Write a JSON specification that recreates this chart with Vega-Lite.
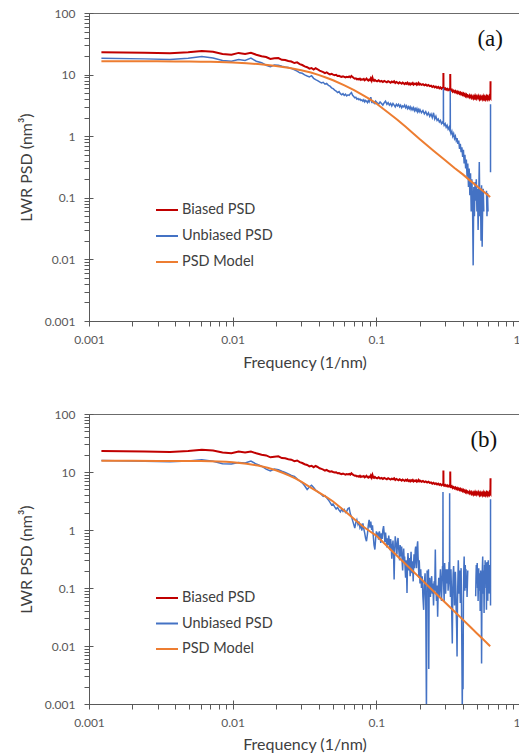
{
"$schema": "https://vega.github.io/schema/vega-lite/v6.json",
"background": "white",
"padding": {"left": 17, "top": 6, "right": 0, "bottom": 0},
"spacing": 36,
"config": {
  "font": "Lato",
  "view": {"stroke": "#6b6b6b", "strokeWidth": 1},
  "axis": {"grid": false, "domainColor": "#595959", "tickColor": "#595959", "labelColor": "#595959", "labelFont": "Lato", "labelFontSize": 12, "titleFont": "Lato", "titleFontSize": 16, "titleFontWeight": "normal", "titleColor": "#404040", "labelOverlap": false, "labelFlush": false, "labelBound": false},
  "legend": {"orient": "none", "title": null, "symbolType": "stroke", "symbolSize": 484, "symbolStrokeWidth": 2, "labelFont": "Lato", "labelFontSize": 14.5, "labelColor": "#404040", "labelOffset": 3, "padding": 0, "offset": 0}
},
"datasets": {
"red": [{"f":0.00122,"v":23.0},{"f":0.00244,"v":22.6},{"f":0.00366,"v":22.2},{"f":0.0049,"v":23.0},{"f":0.0061,"v":24.2},{"f":0.0073,"v":23.4},{"f":0.0085,"v":21.6},{"f":0.0098,"v":21.0},{"f":0.011,"v":22.5},{"f":0.0122,"v":21.6},{"f":0.0134,"v":22.6},{"f":0.0146,"v":21.0},{"f":0.0159,"v":19.8},{"f":0.0171,"v":19.3},{"f":0.0183,"v":17.9},{"f":0.0195,"v":18.4},{"f":0.0208,"v":18.6},{"f":0.022,"v":17.4},{"f":0.0232,"v":17.2},{"f":0.0244,"v":16.6},{"f":0.0256,"v":16.3},{"f":0.0269,"v":15.4},{"f":0.0281,"v":15.8},{"f":0.0293,"v":14.8},{"f":0.0305,"v":14.3},{"f":0.0317,"v":13.6},{"f":0.033,"v":13.2},{"f":0.0342,"v":12.5},{"f":0.0354,"v":12.8},{"f":0.0366,"v":12.1},{"f":0.0378,"v":12.7},{"f":0.039,"v":12.2},{"f":0.0403,"v":11.6},{"f":0.0415,"v":11.3},{"f":0.0427,"v":11.0},{"f":0.0439,"v":10.6},{"f":0.0451,"v":10.9},{"f":0.0464,"v":10.4},{"f":0.0476,"v":10.1},{"f":0.0488,"v":10.3},{"f":0.05,"v":10.0},{"f":0.0513,"v":9.8},{"f":0.0525,"v":9.9},{"f":0.0537,"v":9.5},{"f":0.055,"v":9.6},{"f":0.0562,"v":9.3},{"f":0.0574,"v":9.2},{"f":0.0586,"v":9.4},{"f":0.0598,"v":9.2},{"f":0.061,"v":9.0},{"f":0.0622,"v":9.2},{"f":0.0635,"v":9.1},{"f":0.0647,"v":9.3},{"f":0.0659,"v":9.0},{"f":0.0671,"v":9.5},{"f":0.0684,"v":9.1},{"f":0.0696,"v":8.8},{"f":0.0708,"v":8.6},{"f":0.072,"v":8.7},{"f":0.0732,"v":8.4},{"f":0.0745,"v":8.5},{"f":0.0757,"v":8.3},{"f":0.0769,"v":8.6},{"f":0.0781,"v":8.2},{"f":0.0793,"v":8.4},{"f":0.0806,"v":8.3},{"f":0.0818,"v":8.5},{"f":0.083,"v":8.1},{"f":0.0842,"v":8.3},{"f":0.0854,"v":8.6},{"f":0.0867,"v":8.2},{"f":0.0879,"v":8.0},{"f":0.0891,"v":8.3},{"f":0.0903,"v":8.1},{"f":0.0915,"v":8.7},{"f":0.0928,"v":8.0},{"f":0.094,"v":8.9},{"f":0.0952,"v":8.1},{"f":0.0964,"v":7.9},{"f":0.0977,"v":8.2},{"f":0.0989,"v":8.0},{"f":0.1013,"v":7.8},{"f":0.1037,"v":8.1},{"f":0.1062,"v":7.7},{"f":0.1086,"v":7.9},{"f":0.111,"v":7.6},{"f":0.1135,"v":7.9},{"f":0.1159,"v":7.7},{"f":0.1184,"v":7.5},{"f":0.1208,"v":7.8},{"f":0.1232,"v":7.6},{"f":0.1257,"v":7.4},{"f":0.1281,"v":7.7},{"f":0.1306,"v":7.5},{"f":0.133,"v":7.8},{"f":0.1354,"v":7.3},{"f":0.1379,"v":7.6},{"f":0.1403,"v":7.4},{"f":0.1428,"v":7.2},{"f":0.1452,"v":7.5},{"f":0.1476,"v":7.3},{"f":0.1501,"v":7.1},{"f":0.1525,"v":7.4},{"f":0.155,"v":7.2},{"f":0.1574,"v":7.0},{"f":0.1598,"v":7.3},{"f":0.1623,"v":7.1},{"f":0.1647,"v":7.4},{"f":0.1672,"v":7.0},{"f":0.1696,"v":7.2},{"f":0.172,"v":6.9},{"f":0.1745,"v":7.2},{"f":0.1769,"v":7.0},{"f":0.1794,"v":7.3},{"f":0.1818,"v":6.9},{"f":0.1842,"v":7.1},{"f":0.1867,"v":7.0},{"f":0.1891,"v":7.2},{"f":0.1916,"v":6.8},{"f":0.194,"v":7.0},{"f":0.1964,"v":7.3},{"f":0.1989,"v":6.9},{"f":0.2013,"v":7.1},{"f":0.2062,"v":6.8},{"f":0.211,"v":7.0},{"f":0.2159,"v":6.7},{"f":0.2208,"v":6.9},{"f":0.2257,"v":6.6},{"f":0.2306,"v":6.8},{"f":0.2354,"v":6.5},{"f":0.2403,"v":6.6},{"f":0.2452,"v":6.3},{"f":0.2501,"v":6.5},{"f":0.255,"v":6.2},{"f":0.2598,"v":6.4},{"f":0.2647,"v":6.1},{"f":0.2696,"v":6.3},{"f":0.2745,"v":6.0},{"f":0.2794,"v":6.2},{"f":0.2842,"v":5.9},{"f":0.2891,"v":6.1},{"f":0.2928,"v":6.0},{"f":0.293,"v":10.6},{"f":0.2935,"v":6.0},{"f":0.2965,"v":5.8},{"f":0.3013,"v":6.0},{"f":0.3062,"v":5.7},{"f":0.311,"v":5.9},{"f":0.3159,"v":5.6},{"f":0.3208,"v":5.8},{"f":0.3257,"v":5.6},{"f":0.3268,"v":5.7},{"f":0.327,"v":10.2},{"f":0.3275,"v":5.6},{"f":0.3306,"v":5.5},{"f":0.3354,"v":5.7},{"f":0.3403,"v":5.3},{"f":0.3452,"v":5.5},{"f":0.3501,"v":5.2},{"f":0.355,"v":5.4},{"f":0.3598,"v":5.1},{"f":0.3647,"v":5.3},{"f":0.3696,"v":5.0},{"f":0.3745,"v":5.2},{"f":0.3794,"v":4.9},{"f":0.3842,"v":5.1},{"f":0.3891,"v":4.8},{"f":0.394,"v":5.0},{"f":0.3989,"v":4.7},{"f":0.4037,"v":4.9},{"f":0.4086,"v":4.6},{"f":0.4135,"v":4.8},{"f":0.4184,"v":4.5},{"f":0.4232,"v":4.7},{"f":0.4281,"v":4.4},{"f":0.433,"v":4.6},{"f":0.4379,"v":4.5},{"f":0.4428,"v":4.3},{"f":0.4476,"v":4.6},{"f":0.4525,"v":4.4},{"f":0.4574,"v":4.2},{"f":0.4623,"v":4.5},{"f":0.4672,"v":4.3},{"f":0.472,"v":4.1},{"f":0.4769,"v":4.4},{"f":0.4818,"v":4.2},{"f":0.4867,"v":4.5},{"f":0.4915,"v":4.2},{"f":0.4964,"v":4.4},{"f":0.5013,"v":4.1},{"f":0.5062,"v":4.3},{"f":0.511,"v":4.5},{"f":0.5159,"v":4.2},{"f":0.5208,"v":4.0},{"f":0.5257,"v":4.3},{"f":0.5306,"v":4.1},{"f":0.5354,"v":4.4},{"f":0.5403,"v":4.2},{"f":0.5452,"v":4.0},{"f":0.5501,"v":4.3},{"f":0.555,"v":4.1},{"f":0.5598,"v":4.4},{"f":0.5647,"v":4.1},{"f":0.5696,"v":4.3},{"f":0.5745,"v":4.0},{"f":0.5794,"v":4.2},{"f":0.5842,"v":4.4},{"f":0.5891,"v":4.1},{"f":0.594,"v":4.3},{"f":0.5989,"v":4.0},{"f":0.6037,"v":4.2},{"f":0.6086,"v":4.4},{"f":0.6135,"v":4.1},{"f":0.6184,"v":4.3},{"f":0.6225,"v":4.2},{"f":0.6235,"v":7.8}],
"blueA": [{"f":0.00122,"v":18.5},{"f":0.00244,"v":18.0},{"f":0.00366,"v":17.6},{"f":0.0049,"v":18.5},{"f":0.0061,"v":19.6},{"f":0.0073,"v":18.6},{"f":0.0085,"v":16.9},{"f":0.0098,"v":16.5},{"f":0.011,"v":17.6},{"f":0.0122,"v":17.0},{"f":0.0134,"v":18.5},{"f":0.0146,"v":16.5},{"f":0.0159,"v":15.6},{"f":0.0171,"v":14.2},{"f":0.0183,"v":13.4},{"f":0.0195,"v":14.3},{"f":0.0208,"v":14.2},{"f":0.022,"v":13.7},{"f":0.0232,"v":13.3},{"f":0.0244,"v":13.0},{"f":0.0256,"v":12.6},{"f":0.0269,"v":12.0},{"f":0.0281,"v":11.4},{"f":0.0293,"v":10.7},{"f":0.0305,"v":10.5},{"f":0.0317,"v":9.9},{"f":0.033,"v":9.5},{"f":0.0342,"v":9.2},{"f":0.0354,"v":9.6},{"f":0.0366,"v":8.7},{"f":0.0378,"v":8.3},{"f":0.039,"v":8.0},{"f":0.0403,"v":7.6},{"f":0.0415,"v":7.3},{"f":0.0427,"v":7.5},{"f":0.0439,"v":7.0},{"f":0.0451,"v":7.2},{"f":0.0464,"v":6.7},{"f":0.0476,"v":6.5},{"f":0.0488,"v":6.1},{"f":0.05,"v":5.9},{"f":0.0513,"v":5.6},{"f":0.0525,"v":5.4},{"f":0.0537,"v":5.1},{"f":0.055,"v":5.3},{"f":0.0562,"v":4.9},{"f":0.0574,"v":4.7},{"f":0.0586,"v":4.9},{"f":0.0598,"v":4.6},{"f":0.061,"v":4.8},{"f":0.0622,"v":4.5},{"f":0.0635,"v":4.7},{"f":0.0647,"v":4.6},{"f":0.0659,"v":4.9},{"f":0.0671,"v":5.1},{"f":0.0684,"v":4.6},{"f":0.0696,"v":4.4},{"f":0.0708,"v":4.2},{"f":0.072,"v":4.3},{"f":0.0732,"v":4.0},{"f":0.0745,"v":4.1},{"f":0.0757,"v":3.9},{"f":0.0769,"v":4.0},{"f":0.0781,"v":3.8},{"f":0.0793,"v":3.9},{"f":0.0806,"v":3.7},{"f":0.0818,"v":3.9},{"f":0.083,"v":3.6},{"f":0.0842,"v":3.8},{"f":0.0854,"v":3.7},{"f":0.0867,"v":3.5},{"f":0.0879,"v":3.8},{"f":0.0891,"v":3.6},{"f":0.0903,"v":3.9},{"f":0.0915,"v":4.3},{"f":0.0928,"v":3.6},{"f":0.094,"v":3.7},{"f":0.0952,"v":3.5},{"f":0.0964,"v":3.6},{"f":0.0977,"v":3.4},{"f":0.0989,"v":3.7},{"f":0.1013,"v":3.5},{"f":0.1037,"v":3.3},{"f":0.1062,"v":3.6},{"f":0.1086,"v":3.4},{"f":0.111,"v":3.2},{"f":0.1135,"v":3.5},{"f":0.1159,"v":3.7},{"f":0.1184,"v":3.3},{"f":0.1208,"v":3.5},{"f":0.1232,"v":3.2},{"f":0.1257,"v":3.4},{"f":0.1281,"v":3.1},{"f":0.1306,"v":3.4},{"f":0.133,"v":3.2},{"f":0.1354,"v":3.0},{"f":0.1379,"v":3.3},{"f":0.1403,"v":3.1},{"f":0.1428,"v":3.3},{"f":0.1452,"v":3.0},{"f":0.1476,"v":3.2},{"f":0.1501,"v":2.9},{"f":0.1525,"v":3.1},{"f":0.155,"v":3.0},{"f":0.1574,"v":3.2},{"f":0.1598,"v":2.9},{"f":0.1623,"v":3.1},{"f":0.1647,"v":2.8},{"f":0.1672,"v":3.0},{"f":0.1696,"v":2.8},{"f":0.172,"v":3.0},{"f":0.1745,"v":2.7},{"f":0.1769,"v":2.9},{"f":0.1794,"v":2.7},{"f":0.1818,"v":2.9},{"f":0.1842,"v":2.6},{"f":0.1867,"v":2.8},{"f":0.1891,"v":2.6},{"f":0.1916,"v":2.8},{"f":0.194,"v":2.5},{"f":0.1964,"v":2.7},{"f":0.1989,"v":2.5},{"f":0.2013,"v":2.7},{"f":0.2062,"v":2.4},{"f":0.211,"v":2.6},{"f":0.2159,"v":2.3},{"f":0.2208,"v":2.5},{"f":0.2257,"v":2.2},{"f":0.2306,"v":2.4},{"f":0.2354,"v":2.1},{"f":0.2403,"v":2.3},{"f":0.2452,"v":2.0},{"f":0.2501,"v":2.4},{"f":0.255,"v":1.9},{"f":0.2598,"v":2.1},{"f":0.2647,"v":1.8},{"f":0.2696,"v":1.9},{"f":0.2745,"v":1.7},{"f":0.2794,"v":1.8},{"f":0.2842,"v":1.6},{"f":0.2891,"v":1.7},{"f":0.2928,"v":1.6},{"f":0.293,"v":6.0},{"f":0.2935,"v":1.65},{"f":0.2965,"v":1.5},{"f":0.3013,"v":1.6},{"f":0.3062,"v":1.4},{"f":0.311,"v":1.5},{"f":0.3159,"v":1.3},{"f":0.3208,"v":1.4},{"f":0.3257,"v":1.2},{"f":0.3268,"v":1.25},{"f":0.327,"v":5.5},{"f":0.3275,"v":1.2},{"f":0.3306,"v":1.1},{"f":0.3354,"v":1.2},{"f":0.3403,"v":1.0},{"f":0.3452,"v":1.1},{"f":0.3501,"v":0.92},{"f":0.355,"v":1.0},{"f":0.3598,"v":0.85},{"f":0.3647,"v":0.93},{"f":0.3696,"v":0.75},{"f":0.3745,"v":0.85},{"f":0.3794,"v":0.62},{"f":0.3842,"v":0.75},{"f":0.3891,"v":0.55},{"f":0.394,"v":0.66},{"f":0.3989,"v":0.46},{"f":0.4037,"v":0.6},{"f":0.4086,"v":0.36},{"f":0.4135,"v":0.5},{"f":0.4184,"v":0.3},{"f":0.4232,"v":0.42},{"f":0.4281,"v":0.22},{"f":0.433,"v":0.36},{"f":0.4379,"v":0.15},{"f":0.4428,"v":0.3},{"f":0.4476,"v":0.11},{"f":0.4525,"v":0.25},{"f":0.4574,"v":0.06},{"f":0.4623,"v":0.2},{"f":0.4672,"v":0.09},{"f":0.472,"v":0.008},{"f":0.4769,"v":0.15},{"f":0.4818,"v":0.05},{"f":0.4867,"v":0.18},{"f":0.4915,"v":0.09},{"f":0.4964,"v":0.2},{"f":0.5013,"v":0.06},{"f":0.5062,"v":0.14},{"f":0.511,"v":0.03},{"f":0.5159,"v":0.1},{"f":0.5208,"v":0.38},{"f":0.5257,"v":0.05},{"f":0.5306,"v":0.14},{"f":0.5354,"v":0.02},{"f":0.5403,"v":0.16},{"f":0.5452,"v":0.016},{"f":0.5501,"v":0.09},{"f":0.555,"v":0.14},{"f":0.5598,"v":0.06},{"f":0.57,"v":null},{"f":0.5845,"v":0.13},{"f":0.5891,"v":0.05},{"f":0.594,"v":0.12},{"f":0.5989,"v":0.06},{"f":0.61,"v":null},{"f":0.6235,"v":0.26},{"f":0.6236,"v":3.3}],
"modelA": [{"f":0.00122,"v":16.4},{"f":0.002,"v":16.4},{"f":0.003,"v":16.4},{"f":0.004,"v":16.35},{"f":0.005,"v":16.3},{"f":0.006,"v":16.2},{"f":0.007,"v":16.1},{"f":0.008,"v":16.0},{"f":0.009,"v":15.9},{"f":0.01,"v":15.7},{"f":0.0125,"v":15.3},{"f":0.015,"v":14.8},{"f":0.0175,"v":14.3},{"f":0.02,"v":13.8},{"f":0.025,"v":12.8},{"f":0.03,"v":11.8},{"f":0.035,"v":10.8},{"f":0.04,"v":9.8},{"f":0.045,"v":8.9},{"f":0.05,"v":8.1},{"f":0.06,"v":6.7},{"f":0.07,"v":5.6},{"f":0.08,"v":4.7},{"f":0.09,"v":4.0},{"f":0.1,"v":3.4},{"f":0.12,"v":2.45},{"f":0.14,"v":1.85},{"f":0.16,"v":1.42},{"f":0.18,"v":1.12},{"f":0.2,"v":0.9},{"f":0.25,"v":0.58},{"f":0.3,"v":0.41},{"f":0.35,"v":0.305},{"f":0.4,"v":0.24},{"f":0.45,"v":0.19},{"f":0.5,"v":0.155},{"f":0.56,"v":0.125},{"f":0.62,"v":0.103}],
"blueB": [{"f":0.00122,"v":15.8},{"f":0.00244,"v":15.3},{"f":0.00366,"v":15.0},{"f":0.0049,"v":15.5},{"f":0.0061,"v":16.3},{"f":0.0073,"v":15.3},{"f":0.0085,"v":13.9},{"f":0.0098,"v":13.7},{"f":0.011,"v":14.6},{"f":0.0122,"v":14.3},{"f":0.0134,"v":15.4},{"f":0.0146,"v":13.7},{"f":0.0159,"v":12.6},{"f":0.0171,"v":11.2},{"f":0.0183,"v":10.4},{"f":0.0195,"v":11.2},{"f":0.0208,"v":10.9},{"f":0.022,"v":10.3},{"f":0.0232,"v":9.8},{"f":0.0244,"v":9.3},{"f":0.0256,"v":8.7},{"f":0.0269,"v":8.4},{"f":0.0281,"v":7.6},{"f":0.0293,"v":7.0},{"f":0.0305,"v":6.5},{"f":0.0317,"v":5.8},{"f":0.033,"v":5.0},{"f":0.0342,"v":5.5},{"f":0.0354,"v":5.9},{"f":0.0366,"v":5.4},{"f":0.0378,"v":4.9},{"f":0.039,"v":4.6},{"f":0.0403,"v":4.3},{"f":0.0415,"v":4.1},{"f":0.0427,"v":3.8},{"f":0.0439,"v":3.9},{"f":0.0451,"v":3.6},{"f":0.0464,"v":3.3},{"f":0.0476,"v":3.0},{"f":0.0488,"v":2.7},{"f":0.05,"v":2.8},{"f":0.0513,"v":2.5},{"f":0.0525,"v":2.3},{"f":0.0537,"v":2.45},{"f":0.055,"v":2.2},{"f":0.0562,"v":2.05},{"f":0.0574,"v":2.3},{"f":0.0586,"v":2.1},{"f":0.0598,"v":2.25},{"f":0.061,"v":2.0},{"f":0.0622,"v":2.1},{"f":0.0635,"v":2.35},{"f":0.0647,"v":2.4},{"f":0.0659,"v":1.9},{"f":0.0671,"v":1.7},{"f":0.0684,"v":1.45},{"f":0.0696,"v":1.25},{"f":0.0708,"v":1.08},{"f":0.072,"v":1.35},{"f":0.0732,"v":1.5},{"f":0.0745,"v":1.25},{"f":0.0757,"v":1.4},{"f":0.0769,"v":1.1},{"f":0.0781,"v":1.2},{"f":0.0793,"v":0.98},{"f":0.0806,"v":1.3},{"f":0.0818,"v":1.05},{"f":0.083,"v":0.88},{"f":0.0842,"v":0.72},{"f":0.0854,"v":0.64},{"f":0.0867,"v":0.85},{"f":0.0879,"v":1.2},{"f":0.0891,"v":1.5},{"f":0.0903,"v":1.1},{"f":0.0915,"v":1.4},{"f":0.0928,"v":1.0},{"f":0.094,"v":1.2},{"f":0.0952,"v":0.8},{"f":0.0964,"v":0.55},{"f":0.0977,"v":0.46},{"f":0.0989,"v":0.7},{"f":0.1001,"v":0.95},{"f":0.1013,"v":0.78},{"f":0.1025,"v":0.9},{"f":0.1037,"v":0.68},{"f":0.105,"v":0.95},{"f":0.1062,"v":0.82},{"f":0.1074,"v":0.6},{"f":0.1086,"v":0.88},{"f":0.1098,"v":0.7},{"f":0.111,"v":1.0},{"f":0.1123,"v":1.17},{"f":0.1135,"v":0.85},{"f":0.1147,"v":0.62},{"f":0.1159,"v":0.9},{"f":0.1172,"v":0.66},{"f":0.1184,"v":0.5},{"f":0.1196,"v":0.72},{"f":0.1208,"v":0.55},{"f":0.122,"v":0.8},{"f":0.1232,"v":0.62},{"f":0.1245,"v":0.45},{"f":0.1257,"v":0.7},{"f":0.1269,"v":0.55},{"f":0.1281,"v":0.32},{"f":0.1294,"v":0.5},{"f":0.1306,"v":0.66},{"f":0.1318,"v":0.4},{"f":0.133,"v":0.14},{"f":0.1342,"v":0.45},{"f":0.1354,"v":0.78},{"f":0.1367,"v":0.6},{"f":0.1379,"v":0.5},{"f":0.1391,"v":0.38},{"f":0.1403,"v":0.62},{"f":0.1416,"v":0.73},{"f":0.1428,"v":0.5},{"f":0.144,"v":0.4},{"f":0.1452,"v":0.3},{"f":0.1464,"v":0.55},{"f":0.1476,"v":0.42},{"f":0.1489,"v":0.35},{"f":0.1501,"v":0.52},{"f":0.1513,"v":0.28},{"f":0.1525,"v":0.2},{"f":0.1537,"v":0.35},{"f":0.155,"v":0.48},{"f":0.1562,"v":0.3},{"f":0.1574,"v":0.35},{"f":0.1586,"v":0.22},{"f":0.1598,"v":0.15},{"f":0.1611,"v":0.3},{"f":0.1623,"v":0.2},{"f":0.1635,"v":0.082},{"f":0.1647,"v":0.25},{"f":0.166,"v":0.4},{"f":0.1672,"v":0.3},{"f":0.1684,"v":0.2},{"f":0.1696,"v":0.33},{"f":0.1708,"v":0.24},{"f":0.172,"v":0.16},{"f":0.1733,"v":0.3},{"f":0.1745,"v":0.42},{"f":0.1757,"v":0.25},{"f":0.1769,"v":0.18},{"f":0.1781,"v":0.29},{"f":0.1794,"v":0.2},{"f":0.1806,"v":0.13},{"f":0.1818,"v":0.26},{"f":0.183,"v":0.38},{"f":0.1842,"v":0.22},{"f":0.1855,"v":0.3},{"f":0.1867,"v":0.46},{"f":0.1879,"v":0.52},{"f":0.1891,"v":0.32},{"f":0.1903,"v":0.22},{"f":0.1916,"v":0.4},{"f":0.1928,"v":0.55},{"f":0.194,"v":0.64},{"f":0.1952,"v":0.35},{"f":0.1964,"v":0.25},{"f":0.1977,"v":0.15},{"f":0.1989,"v":0.3},{"f":0.2001,"v":0.2},{"f":0.2013,"v":0.12},{"f":0.2037,"v":0.21},{"f":0.2062,"v":0.1},{"f":0.2086,"v":0.16},{"f":0.211,"v":0.07},{"f":0.2135,"v":0.042},{"f":0.2159,"v":0.12},{"f":0.2184,"v":0.18},{"f":0.2208,"v":0.06},{"f":0.2232,"v":0.0008},{"f":0.2257,"v":0.2},{"f":0.2281,"v":0.12},{"f":0.2306,"v":0.21},{"f":0.2318,"v":0.004},{"f":0.233,"v":0.09},{"f":0.2354,"v":0.15},{"f":0.2379,"v":0.07},{"f":0.2403,"v":0.11},{"f":0.2428,"v":0.16},{"f":0.2452,"v":0.08},{"f":0.2476,"v":0.12},{"f":0.2501,"v":0.05},{"f":0.2525,"v":0.13},{"f":0.255,"v":0.09},{"f":0.2574,"v":0.46},{"f":0.2586,"v":0.2},{"f":0.2598,"v":0.1},{"f":0.2623,"v":0.06},{"f":0.2647,"v":0.11},{"f":0.2672,"v":0.032},{"f":0.2696,"v":0.09},{"f":0.272,"v":0.15},{"f":0.2745,"v":0.07},{"f":0.2769,"v":0.12},{"f":0.2794,"v":0.21},{"f":0.2818,"v":0.1},{"f":0.2842,"v":0.06},{"f":0.2867,"v":0.14},{"f":0.2891,"v":0.24},{"f":0.2905,"v":0.2},{"f":0.291,"v":4.5},{"f":0.2915,"v":0.25},{"f":0.294,"v":0.12},{"f":0.2965,"v":0.06},{"f":0.2989,"v":0.27},{"f":0.3013,"v":0.15},{"f":0.3037,"v":0.08},{"f":0.3062,"v":0.21},{"f":0.3086,"v":0.12},{"f":0.311,"v":0.18},{"f":0.3135,"v":0.21},{"f":0.3159,"v":0.09},{"f":0.3184,"v":0.13},{"f":0.3208,"v":0.28},{"f":0.3232,"v":0.15},{"f":0.3238,"v":4.3},{"f":0.3245,"v":0.2},{"f":0.3257,"v":0.12},{"f":0.3281,"v":0.07},{"f":0.3306,"v":0.21},{"f":0.333,"v":0.1},{"f":0.3354,"v":0.03},{"f":0.3379,"v":0.011},{"f":0.3403,"v":0.08},{"f":0.3428,"v":0.18},{"f":0.3452,"v":0.24},{"f":0.3476,"v":0.12},{"f":0.3501,"v":0.05},{"f":0.3525,"v":0.1},{"f":0.355,"v":0.19},{"f":0.3574,"v":0.107},{"f":0.3598,"v":0.04},{"f":0.3623,"v":0.02},{"f":0.3647,"v":0.0066},{"f":0.3672,"v":0.06},{"f":0.3696,"v":0.14},{"f":0.372,"v":0.3},{"f":0.3745,"v":0.17},{"f":0.3769,"v":0.08},{"f":0.3794,"v":0.2},{"f":0.3818,"v":0.11},{"f":0.3842,"v":0.055},{"f":0.3867,"v":0.1},{"f":0.3891,"v":0.22},{"f":0.3916,"v":0.05},{"f":0.394,"v":0.008},{"f":0.3964,"v":0.0008},{"f":0.3989,"v":0.01},{"f":0.4013,"v":0.0018},{"f":0.4037,"v":0.06},{"f":0.4062,"v":0.2},{"f":0.4086,"v":0.35},{"f":0.411,"v":0.14},{"f":0.4135,"v":0.09},{"f":0.4159,"v":0.25},{"f":0.4184,"v":0.12},{"f":0.4208,"v":0.21},{"f":0.4232,"v":0.1},{"f":0.4257,"v":0.15},{"f":0.4281,"v":0.07},{"f":0.4305,"v":0.12},{"f":0.433,"v":0.2},{"f":0.44,"v":null},{"f":0.4915,"v":0.072},{"f":0.494,"v":0.15},{"f":0.4964,"v":0.25},{"f":0.4989,"v":0.12},{"f":0.5013,"v":0.2},{"f":0.5037,"v":0.27},{"f":0.5062,"v":0.1},{"f":0.5086,"v":0.16},{"f":0.511,"v":0.06},{"f":0.5135,"v":0.12},{"f":0.5159,"v":0.22},{"f":0.5184,"v":0.107},{"f":0.5208,"v":0.16},{"f":0.5232,"v":0.09},{"f":0.5257,"v":0.18},{"f":0.5281,"v":0.04},{"f":0.5306,"v":0.1},{"f":0.533,"v":0.2},{"f":0.5354,"v":0.12},{"f":0.5379,"v":0.06},{"f":0.5403,"v":0.005},{"f":0.5428,"v":0.05},{"f":0.5452,"v":0.14},{"f":0.5476,"v":0.24},{"f":0.5501,"v":0.35},{"f":0.5525,"v":0.15},{"f":0.555,"v":0.08},{"f":0.5574,"v":0.2},{"f":0.5598,"v":0.12},{"f":0.5623,"v":0.037},{"f":0.5647,"v":0.1},{"f":0.5672,"v":0.25},{"f":0.5696,"v":0.15},{"f":0.572,"v":0.3},{"f":0.5745,"v":0.12},{"f":0.5769,"v":0.27},{"f":0.5794,"v":0.1},{"f":0.5818,"v":0.2},{"f":0.5842,"v":0.042},{"f":0.5867,"v":0.15},{"f":0.5891,"v":0.28},{"f":0.5916,"v":0.1},{"f":0.594,"v":0.2},{"f":0.5964,"v":0.06},{"f":0.5989,"v":0.15},{"f":0.6013,"v":0.3},{"f":0.6037,"v":0.12},{"f":0.6062,"v":0.2},{"f":0.6086,"v":0.08},{"f":0.611,"v":0.25},{"f":0.615,"v":null},{"f":0.6235,"v":0.05},{"f":0.6236,"v":3.4}],
"modelB": [{"f":0.00122,"v":15.6},{"f":0.002,"v":15.6},{"f":0.003,"v":15.55},{"f":0.004,"v":15.5},{"f":0.005,"v":15.45},{"f":0.006,"v":15.4},{"f":0.007,"v":15.3},{"f":0.008,"v":15.15},{"f":0.009,"v":14.95},{"f":0.01,"v":14.7},{"f":0.0125,"v":13.9},{"f":0.015,"v":12.9},{"f":0.0175,"v":11.8},{"f":0.02,"v":10.7},{"f":0.0225,"v":9.6},{"f":0.025,"v":8.6},{"f":0.0275,"v":7.7},{"f":0.03,"v":6.8},{"f":0.035,"v":5.4},{"f":0.04,"v":4.4},{"f":0.045,"v":3.7},{"f":0.05,"v":3.1},{"f":0.06,"v":2.15},{"f":0.07,"v":1.55},{"f":0.08,"v":1.17},{"f":0.09,"v":0.95},{"f":0.1,"v":0.8},{"f":0.12,"v":0.515},{"f":0.15,"v":0.3},{"f":0.2,"v":0.151},{"f":0.25,"v":0.088},{"f":0.3,"v":0.0568},{"f":0.35,"v":0.0392},{"f":0.4,"v":0.0285},{"f":0.45,"v":0.0214},{"f":0.5,"v":0.0166},{"f":0.56,"v":0.0127},{"f":0.62,"v":0.0099}]
},
"vconcat": [
{
  "width": 431, "height": 308,
  "resolve": {"axis": {"x": "independent", "y": "independent"}},
  "layer": [
    {"data": {"name": "red"}, "mark": {"type": "line", "strokeWidth": 2, "clip": true, "invalid": "break-paths-show-path-domains"},
     "encoding": {
       "x": {"field": "f", "type": "quantitative", "scale": {"type": "log", "domain": [0.001, 1]},
             "axis": {"orient": "bottom", "values": [0.001,0.002,0.003,0.004,0.005,0.006,0.007,0.008,0.009,0.01,0.02,0.03,0.04,0.05,0.06,0.07,0.08,0.09,0.1,0.2,0.3,0.4,0.5,0.6,0.7,0.8,0.9,1], "format": "~g", "labelExpr": "abs(log(datum.value)/LN10 - round(log(datum.value)/LN10)) < 0.000001 ? datum.label : ''", "labelAlign": {"condition": {"test": "datum.value >= 0.99", "value": "right"}, "value": "center"}, "tickSize": 5, "labelPadding": 8, "title": "Frequency (1/nm)", "titlePadding": 9}},
       "y": {"field": "v", "type": "quantitative", "scale": {"type": "log", "domain": [0.001, 100]},
             "axis": {"orient": "left", "values": [0.001,0.002,0.003,0.004,0.005,0.006,0.007,0.008,0.009,0.01,0.02,0.03,0.04,0.05,0.06,0.07,0.08,0.09,0.1,0.2,0.3,0.4,0.5,0.6,0.7,0.8,0.9,1,2,3,4,5,6,7,8,9,10,20,30,40,50,60,70,80,90,100], "format": "~g", "labelExpr": "abs(log(datum.value)/LN10 - round(log(datum.value)/LN10)) < 0.000001 ? datum.label : ''", "tickSize": 5, "labelPadding": 9, "title": "LWR PSD (nm³)", "titlePadding": 10}},
       "color": {"datum": "Biased PSD", "scale": {"domain": ["Biased PSD", "Unbiased PSD", "PSD Model"], "range": ["#C00000", "#4472C4", "#ED7D31"]},
                 "legend": {"legendX": 66, "legendY": 185, "rowPadding": 7}}
     }},
    {"data": {"name": "blueA"}, "mark": {"type": "line", "strokeWidth": 1.5, "clip": true, "invalid": "break-paths-show-path-domains"},
     "encoding": {
       "x": {"field": "f", "type": "quantitative", "axis": {"orient": "bottom", "values": [0.001, 0.01, 0.1, 1], "tickSize": -4, "labels": false, "domain": false, "title": null}},
       "y": {"field": "v", "type": "quantitative", "axis": {"orient": "left", "values": [0.001, 0.01, 0.1, 1, 10, 100], "tickSize": -4, "labels": false, "domain": false, "title": null}},
       "color": {"datum": "Unbiased PSD"}
     }},
    {"data": {"name": "modelA"}, "mark": {"type": "line", "strokeWidth": 2, "clip": true},
     "encoding": {
       "x": {"field": "f", "type": "quantitative", "axis": null},
       "y": {"field": "v", "type": "quantitative", "axis": null},
       "color": {"datum": "PSD Model"}
     }},
    {"data": {"values": [{}]}, "mark": {"type": "text", "font": "Liberation Serif", "fontSize": 23, "color": "#111111", "align": "center", "baseline": "middle"},
     "encoding": {
       "x": {"datum": 0.62, "type": "quantitative", "axis": null},
       "y": {"datum": 38, "type": "quantitative", "axis": null},
       "text": {"value": "(a)"}
     }}
  ]
},
{
  "width": 431, "height": 290,
  "resolve": {"axis": {"x": "independent", "y": "independent"}},
  "layer": [
    {"data": {"name": "red"}, "mark": {"type": "line", "strokeWidth": 2, "clip": true, "invalid": "break-paths-show-path-domains"},
     "encoding": {
       "x": {"field": "f", "type": "quantitative", "scale": {"type": "log", "domain": [0.001, 1]},
             "axis": {"orient": "bottom", "values": [0.001,0.002,0.003,0.004,0.005,0.006,0.007,0.008,0.009,0.01,0.02,0.03,0.04,0.05,0.06,0.07,0.08,0.09,0.1,0.2,0.3,0.4,0.5,0.6,0.7,0.8,0.9,1], "format": "~g", "labelExpr": "abs(log(datum.value)/LN10 - round(log(datum.value)/LN10)) < 0.000001 ? datum.label : ''", "labelAlign": {"condition": {"test": "datum.value >= 0.99", "value": "right"}, "value": "center"}, "tickSize": 5, "labelPadding": 8, "title": "Frequency (1/nm)", "titlePadding": 8}},
       "y": {"field": "v", "type": "quantitative", "scale": {"type": "log", "domain": [0.001, 100]},
             "axis": {"orient": "left", "values": [0.001,0.002,0.003,0.004,0.005,0.006,0.007,0.008,0.009,0.01,0.02,0.03,0.04,0.05,0.06,0.07,0.08,0.09,0.1,0.2,0.3,0.4,0.5,0.6,0.7,0.8,0.9,1,2,3,4,5,6,7,8,9,10,20,30,40,50,60,70,80,90,100], "format": "~g", "labelExpr": "abs(log(datum.value)/LN10 - round(log(datum.value)/LN10)) < 0.000001 ? datum.label : ''", "tickSize": 5, "labelPadding": 9, "title": "LWR PSD (nm³)", "titlePadding": 10}},
       "color": {"datum": "Biased PSD", "scale": {"domain": ["Biased PSD", "Unbiased PSD", "PSD Model"], "range": ["#C00000", "#4472C4", "#ED7D31"]},
                 "legend": {"legendX": 66, "legendY": 172, "rowPadding": 6.5}}
     }},
    {"data": {"name": "blueB"}, "mark": {"type": "line", "strokeWidth": 1.5, "clip": true, "invalid": "break-paths-show-path-domains"},
     "encoding": {
       "x": {"field": "f", "type": "quantitative", "axis": {"orient": "bottom", "values": [0.001, 0.01, 0.1, 1], "tickSize": -4, "labels": false, "domain": false, "title": null}},
       "y": {"field": "v", "type": "quantitative", "axis": {"orient": "left", "values": [0.001, 0.01, 0.1, 1, 10, 100], "tickSize": -4, "labels": false, "domain": false, "title": null}},
       "color": {"datum": "Unbiased PSD"}
     }},
    {"data": {"name": "modelB"}, "mark": {"type": "line", "strokeWidth": 2, "clip": true},
     "encoding": {
       "x": {"field": "f", "type": "quantitative", "axis": null},
       "y": {"field": "v", "type": "quantitative", "axis": null},
       "color": {"datum": "PSD Model"}
     }},
    {"data": {"values": [{}]}, "mark": {"type": "text", "font": "Liberation Serif", "fontSize": 23, "color": "#111111", "align": "center", "baseline": "middle"},
     "encoding": {
       "x": {"datum": 0.56, "type": "quantitative", "axis": null},
       "y": {"datum": 36, "type": "quantitative", "axis": null},
       "text": {"value": "(b)"}
     }}
  ]
}
],
"resolve": {"scale": {"color": "independent"}, "legend": {"color": "independent"}}
}
